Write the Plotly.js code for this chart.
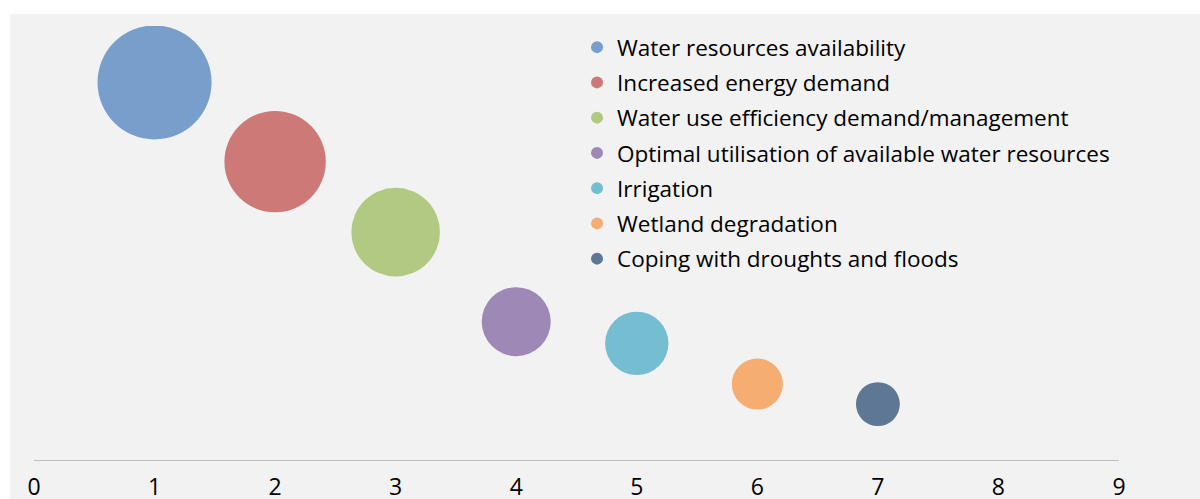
<!DOCTYPE html>
<html>
<head>
<meta charset="utf-8">
<script src="https://cdn.plot.ly/plotly-3.0.1.min.js"></script>
<style>
html, body { margin: 0; padding: 0; background: #ffffff; }
#chart { position: absolute; left: 10px; top: 14px; width: 1190px; height: 485px; }
</style>
</head>
<body>
<div id="chart"></div>
<script>
var categories = [
  "Water resources availability",
  "Increased energy demand",
  "Water use efficiency demand/management",
  "Optimal utilisation of available water resources",
  "Irrigation",
  "Wetland degradation",
  "Coping with droughts and floods"
];
var xValues = [1, 2, 3, 4, 5, 6, 7];
var yValues = [69.6, 55, 42, 25.5, 21.5, 14, 10.3];
var bubbleSizes = [69.6, 55, 42, 25.5, 21.5, 14, 10.3];
var colors = ["#4F81BD", "#C0504D", "#9BBB59", "#8064A2", "#4BACC6", "#F79646", "#2C4D75"];
var xTicks = [0, 1, 2, 3, 4, 5, 6, 7, 8, 9];

var maxDiameter = 114;
var sizeref = 2 * Math.max.apply(null, bubbleSizes) / (maxDiameter * maxDiameter);

var traces = categories.map(function (name, i) {
  return {
    type: "scatter",
    mode: "markers",
    name: name,
    legendgroup: "g" + i,
    x: [xValues[i]],
    y: [yValues[i]],
    marker: {
      size: [bubbleSizes[i]],
      sizemode: "area",
      sizeref: sizeref,
      color: colors[i],
      opacity: 0.75,
      line: { width: 0 }
    },
    hoverinfo: "name+x+y"
  };
});

var layout = {
  width: 1190,
  height: 485,
  paper_bgcolor: "#F2F2F2",
  plot_bgcolor: "#F2F2F2",
  margin: { l: 24, r: 81, t: 12, b: 39 },
  font: { family: "Open Sans, Noto Sans, sans-serif", size: 22, color: "#000000" },
  showlegend: true,
  legend: {
    x: 0.5005, y: 1.0, xanchor: "left", yanchor: "top",
    bgcolor: "rgba(0,0,0,0)",
    font: { size: 22.5, color: "#000000" },
    itemsizing: "constant",
    tracegroupgap: 3,
    traceorder: "grouped"
  },
  xaxis: {
    range: [0, 9],
    tickvals: xTicks,
    ticktext: xTicks.map(String),
    showgrid: false,
    zeroline: false,
    showline: true,
    linecolor: "#BFBFBF",
    linewidth: 1.3,
    ticks: "outside",
    ticklen: 6,
    tickcolor: "rgba(0,0,0,0)",
    tickfont: { size: 23, color: "#000000" },
    fixedrange: true
  },
  yaxis: {
    range: [0, 80],
    visible: false,
    showgrid: false,
    zeroline: false,
    fixedrange: true
  }
};

Plotly.newPlot("chart", traces, layout, { displayModeBar: false, staticPlot: true });
</script>
</body>
</html>
